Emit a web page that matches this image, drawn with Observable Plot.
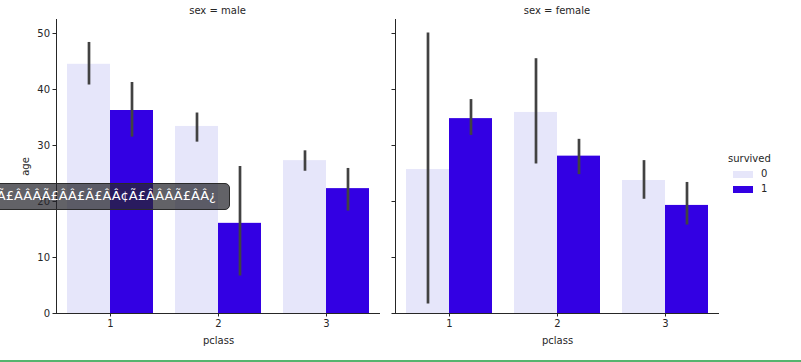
<!DOCTYPE html>
<html><head><meta charset="utf-8">
<script src="https://cdn.jsdelivr.net/npm/d3@7"></script>
<script src="https://cdn.jsdelivr.net/npm/@observablehq/plot@0.6"></script>
<style>
body{margin:0;background:#fff;}
#fig{position:relative;width:801px;height:362px;overflow:hidden;font-family:"DejaVu Sans",sans-serif;color:#262626;background:#fff;}
.panel{position:absolute;top:0;}
.ftitle{position:absolute;top:5px;font-size:10px;transform:translateX(-50%);white-space:nowrap;}
.legend{position:absolute;left:729px;top:153px;font-size:10px;}
.legend .ttl{position:absolute;left:0;top:0;white-space:nowrap;}
.legend .sw{position:absolute;width:20px;height:6.5px;}
.legend .lb{position:absolute;white-space:nowrap;}
.tip{position:absolute;left:-30px;top:183px;width:258px;height:25px;background:rgba(38,38,44,0.72);border:1px solid #2a2a2a;border-radius:5px;overflow:hidden;}
.tip span{position:absolute;right:13px;top:4px;font-size:13px;color:#fff;white-space:nowrap;font-family:"DejaVu Sans",sans-serif;}
.bottomline{position:absolute;left:0;top:360px;width:801px;height:1.5px;background:#55b46e;}
</style></head><body><div id="fig"></div>
<script>
const sexes = ["male", "female"];
const facetTitles = ["sex = male", "sex = female"];
const pclasses = [1, 2, 3];
const survivedLevels = [0, 1];
const survivedColors = ["#e6e6fa", "#3300e3"];
const yTicks = [0, 10, 20, 30, 40, 50];

// mean age per pclass (1,2,3)
const maleAge0 = [44.5, 33.4, 27.3];
const maleAge1 = [36.25, 16.1, 22.3];
const femaleAge0 = [25.7, 35.9, 23.75];
const femaleAge1 = [34.8, 28.1, 19.3];
// confidence intervals
const maleLo0 = [40.8, 30.6, 25.4];
const maleHi0 = [48.4, 35.8, 29.05];
const maleLo1 = [31.5, 6.7, 18.3];
const maleHi1 = [41.25, 26.25, 25.9];
const femaleLo0 = [1.7, 26.7, 20.4];
const femaleHi0 = [50.1, 45.5, 27.3];
const femaleLo1 = [31.8, 24.8, 15.8];
const femaleHi1 = [38.2, 31.1, 23.4];

const tooltipText = "ÃÂÃ£ÂÂÂÃ£ÂÂ£Ã£ÂÂ¢Ã£ÂÂÂÃ£ÂÂ¿";

const series = {
  male: {age: [maleAge0, maleAge1], lo: [maleLo0, maleLo1], hi: [maleHi0, maleHi1]},
  female: {age: [femaleAge0, femaleAge1], lo: [femaleLo0, femaleLo1], hi: [femaleHi0, femaleHi1]}
};

function rowsFor(sex) {
  const s = series[sex];
  const rows = [];
  pclasses.forEach((p, i) => {
    survivedLevels.forEach((v, j) => {
      rows.push({pclass: p, survived: v, age: s.age[j][i], lo: s.lo[j][i], hi: s.hi[j][i]});
    });
  });
  return rows;
}

const fig = document.getElementById("fig");
const layout = [
  {left: 0, width: 385, marginLeft: 55},
  {left: 380, width: 345, marginLeft: 14}
];

sexes.forEach((sex, i) => {
  const L = layout[i];
  const first = i === 0;
  const rows = rowsFor(sex);
  const chart = Plot.plot({
    width: L.width,
    height: 350,
    marginLeft: L.marginLeft,
    marginRight: 5,
    marginTop: 19,
    marginBottom: 37,
    style: {fontFamily: "DejaVu Sans", fontSize: "10px", color: "#262626", background: "transparent", overflow: "visible"},
    fx: {domain: pclasses, padding: 0, axis: "bottom", label: "pclass", labelAnchor: "center", tickSize: 3.5, tickPadding: 3, labelOffset: 30},
    x: {domain: survivedLevels, axis: null, paddingInner: 0, paddingOuter: 0.25},
    y: {domain: [0, 52.5], ticks: yTicks, tickSize: 3.5, tickPadding: 3, line: true,
        label: first ? "age" : null, labelAnchor: "center", labelArrow: "none", labelOffset: 35,
        tickFormat: first ? (d => String(d)) : (() => "")},
    color: {domain: survivedLevels, range: survivedColors},
    marks: [
      Plot.barY(rows, {fx: "pclass", x: "survived", y: "age", fill: "survived", insetLeft: 0, insetRight: 0}),
      Plot.ruleX(rows, {fx: "pclass", x: "survived", y1: "lo", y2: "hi", stroke: "#424242", strokeWidth: 2.7}),
      Plot.ruleY([0], {stroke: "#262626"})
    ]
  });
  const wrap = document.createElement("div");
  wrap.className = "panel";
  wrap.style.left = L.left + "px";
  wrap.appendChild(chart);
  fig.appendChild(wrap);

  const t = document.createElement("div");
  t.className = "ftitle";
  t.textContent = facetTitles[i];
  t.style.left = (L.left + L.marginLeft + (L.width - L.marginLeft - 5) / 2) + "px";
  fig.appendChild(t);
});

// legend
const lg = document.createElement("div");
lg.className = "legend";
const lt = document.createElement("div");
lt.className = "ttl";
lt.style.left = "-1px";
lt.textContent = "survived";
lg.appendChild(lt);
survivedLevels.forEach((v, j) => {
  const sw = document.createElement("div");
  sw.className = "sw";
  sw.style.left = "4px";
  sw.style.top = (18 + j * 15) + "px";
  sw.style.background = survivedColors[j];
  lg.appendChild(sw);
  const lb = document.createElement("div");
  lb.className = "lb";
  lb.style.left = "32px";
  lb.style.top = (15 + j * 15) + "px";
  lb.textContent = String(v);
  lg.appendChild(lb);
});
fig.appendChild(lg);

// tooltip overlay
const tip = document.createElement("div");
tip.className = "tip";
const ts = document.createElement("span");
ts.textContent = tooltipText;
tip.appendChild(ts);
fig.appendChild(tip);

const bl = document.createElement("div");
bl.className = "bottomline";
fig.appendChild(bl);
</script>
</body></html>
